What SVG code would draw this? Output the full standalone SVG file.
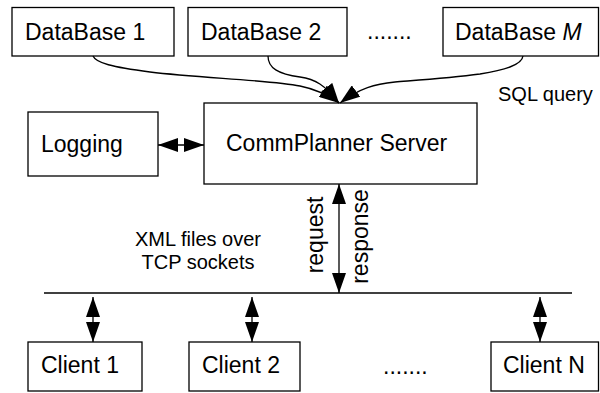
<svg xmlns="http://www.w3.org/2000/svg" width="600" height="393" viewBox="0 0 600 393">
<style>
  .box { fill: #fff; stroke: #000; stroke-width: 1.3; }
  .lbl { font-family: "Liberation Sans", Arial, sans-serif; font-size: 23px; fill: #000; }
  .sm { font-family: "Liberation Sans", Arial, sans-serif; font-size: 20px; fill: #000; }
  .ln { fill: none; stroke: #000; stroke-width: 1.3; }
</style>
<defs>
  <marker id="ah" markerUnits="userSpaceOnUse" markerWidth="20" markerHeight="14" refX="20" refY="7" orient="auto-start-reverse" viewBox="0 0 20 14">
    <path d="M0,0 L20,7 L0,14 z" fill="#000"/>
  </marker>
</defs>
<rect width="600" height="393" fill="#fff"/>

<g id="db1"><rect class="box" x="12" y="7.5" width="162" height="48.5"/><text class="lbl" x="25" y="39.5">DataBase 1</text></g>
<g id="db2"><rect class="box" x="188" y="7.5" width="159" height="48.5"/><text class="lbl" x="201" y="39.5">DataBase 2</text></g>
<text class="lbl" x="367" y="38.5">.......</text>
<g id="dbm"><rect class="box" x="443" y="7.5" width="155.5" height="48.5"/><text class="lbl" x="455" y="39.5">DataBase <tspan font-style="italic">M</tspan></text></g>

<text class="sm" x="498" y="101">SQL query</text>

<g id="logging"><rect class="box" x="28" y="112" width="130" height="64"/><text class="lbl" x="41" y="152">Logging</text></g>
<g id="server"><rect class="box" x="204" y="103" width="273" height="81"/><text class="lbl" x="226" y="151">CommPlanner Server</text></g>

<text class="sm" text-anchor="middle" x="198" y="246">XML files over</text>
<text class="sm" text-anchor="middle" x="198" y="269">TCP sockets</text>

<text class="lbl" text-anchor="middle" transform="translate(322.5,235) rotate(-90)">request</text>
<text class="lbl" text-anchor="middle" transform="translate(368,236.5) rotate(-90)">response</text>

<g id="client1"><rect class="box" x="28" y="342" width="114" height="49"/><text class="lbl" x="41" y="373">Client 1</text></g>
<g id="client2"><rect class="box" x="189" y="342" width="111" height="49"/><text class="lbl" x="202" y="373">Client 2</text></g>
<text class="lbl" x="383" y="374">.......</text>
<g id="clientn"><rect class="box" x="491" y="342" width="107.5" height="49"/><text class="lbl" x="503" y="373">Client N</text></g>

<g id="connectors">
  <path class="ln" d="M93,56 C96,63 112,67 150,72 C200,78 270,80 300,86 C315,89 328,95 339,103" marker-end="url(#ah)"/>
  <path class="ln" d="M268,56 C268,68 278,74 300,77 C315,79 325,85 339,103" marker-end="url(#ah)"/>
  <path class="ln" d="M523,56 C522,65 505,70 480,74 C450,78 420,80 395,82 C375,84 360,88 340,103" marker-end="url(#ah)"/>
  <line class="ln" x1="158" y1="145" x2="204" y2="145" marker-start="url(#ah)" marker-end="url(#ah)"/>
  <line class="ln" x1="339" y1="184" x2="339" y2="293" marker-start="url(#ah)" marker-end="url(#ah)"/>
  <line class="ln" x1="44" y1="293" x2="572" y2="293"/>
  <line class="ln" x1="93" y1="297" x2="93" y2="342" marker-start="url(#ah)" marker-end="url(#ah)"/>
  <line class="ln" x1="252" y1="297" x2="252" y2="342" marker-start="url(#ah)" marker-end="url(#ah)"/>
  <line class="ln" x1="540" y1="297" x2="540" y2="342" marker-start="url(#ah)" marker-end="url(#ah)"/>
</g>
</svg>
